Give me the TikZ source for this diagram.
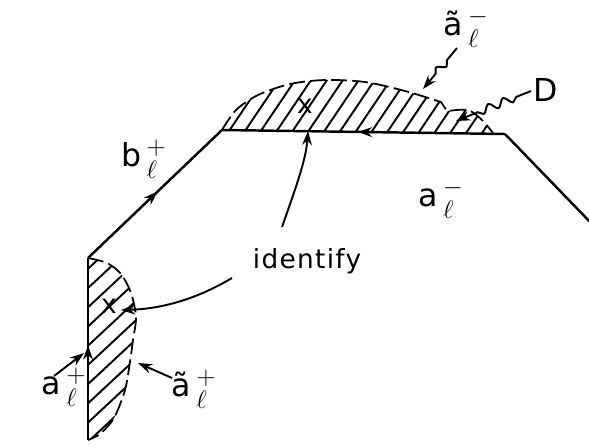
\documentclass[tikz,border=0pt]{standalone}
\usepackage{amsmath}
\usepackage{fontspec}
\setmainfont{DejaVu Sans}
\usetikzlibrary{arrows.meta,decorations.markings,decorations.pathmorphing,patterns.meta}

\newcommand{\scr}[1]{\mbox{\fontsize{15}{15}\selectfont$#1$}}
\newcommand{\edgelab}[2]{#1\,$^{\scr{#2}}_{\scr{\ell}}$}

\begin{document}
\begin{tikzpicture}[x=0.02cm, y=-0.02cm]
    % Styles
    \tikzstyle{edge} = [line width=1.4pt, line join=miter]
    \tikzstyle{flow} = [edge, postaction={decorate}, decoration={markings, mark=at position 0.52 with {\arrow{Stealth[length=8pt,width=5.5pt]}}}]
    \tikzstyle{rim} = [line width=1pt, dash pattern=on 9pt off 3pt]
    \tikzstyle{hatchtop} = [pattern={Lines[angle=56,distance=7.5pt,line width=1.1pt]}]
    \tikzstyle{hatchlow} = [pattern={Lines[angle=43,distance=8pt,line width=1.1pt]}]
    \tikzstyle{lbl} = [font=\fontsize{18}{20}\selectfont, inner sep=0pt]
    \tikzstyle{cross} = [font=\fontsize{15}{17}\selectfont, inner sep=0pt]
    \tikzstyle{pointer} = [line width=1.1pt, -{Stealth[length=8pt,width=5.5pt]}]
    \tikzstyle{squiggle} = [pointer, decoration={snake, segment length=9pt, amplitude=2.2pt, pre length=9pt, post length=11pt}, decorate]

    \useasboundingbox (0,0) rectangle (589,447);

    % Corners of the boundary
    \coordinate (p1) at (88,440);
    \coordinate (p2) at (88,258);
    \coordinate (p3) at (222,130);
    \coordinate (p4) at (505,134);
    \coordinate (p5) at (592,224);

    % Hatched regions
    \fill[hatchtop] plot[smooth] coordinates {(222,130) (236,110) (258,95) (290,84) (325,80) (365,82) (405,91) (441,102)}
        -- (447,111) -- plot[smooth] coordinates {(448,111) (468,110) (482,120) (493,133)} -- cycle;
    \draw[rim] plot[smooth] coordinates {(222,130) (236,110) (258,95) (290,84) (325,80) (365,82) (405,91) (441,102)}
        -- (447,111) -- plot[smooth] coordinates {(448,111) (468,110) (482,120) (493,133)};
    \fill[hatchlow] plot[smooth] coordinates {(88,258) (107,263) (121,274) (131,293) (136,317) (133,340) (130,362) (125,390) (114,418) (100,434) (88,440)} -- cycle;
    \draw[rim] plot[smooth] coordinates {(88,258) (107,263) (121,274) (131,293) (136,317) (133,340) (130,362) (125,390) (114,418) (100,434) (88,440)};

    % Boundary
    \draw[flow] (p1) -- (p2);
    \draw[flow] (p2) -- (p3);
    \draw[flow] (p4) -- (p3);
    \draw[edge] (p4) -- (p5);

    % Marked points
    \node[cross] (xtop) at (305,106) {x};
    \node[cross] (xlow) at (109,306) {x};
    \coordinate (ttop) at (308,131);
    \coordinate (tlow) at (121,310);

    % Labels
    \node[lbl] (atm) at (466,28) {\edgelab{ã}{-}};
    \node[lbl] (dreg) at (546,90) {D};
    \node[lbl] (am) at (441,199) {\edgelab{a}{-}};
    \node[lbl] (bp) at (144,159) {\edgelab{b}{+}};
    \node[lbl] (ap) at (64,387) {\edgelab{a}{+}};
    \node[lbl] (atp) at (194,389) {\edgelab{ã}{+}};
    \node[font=\fontsize{15}{17}\selectfont\addfontfeatures{LetterSpace=5}, inner sep=0pt] (idf) at (307,261) {identify};

    % Pointers
    \coordinate (idf-up) at (282,227);
    \coordinate (idf-left) at (232,278);
    \draw[pointer] (idf-up) .. controls (295,190) and (306,160) .. (ttop);
    \draw[pointer] (idf-left) .. controls (195,300) and (160,309) .. (tlow);

    \coordinate (atm-to) at (423,89);
    \coordinate (dreg-to) at (456,121);
    \coordinate (ap-to) at (84,353);
    \coordinate (atp-to) at (138,363);
    \draw[squiggle] (457,48) -- (atm-to);
    \draw[squiggle] (531,91) -- (dreg-to);
    \draw[squiggle] (54,376) -- (ap-to);
    \draw[squiggle] (172,378) -- (atp-to);
\end{tikzpicture}
\end{document}
